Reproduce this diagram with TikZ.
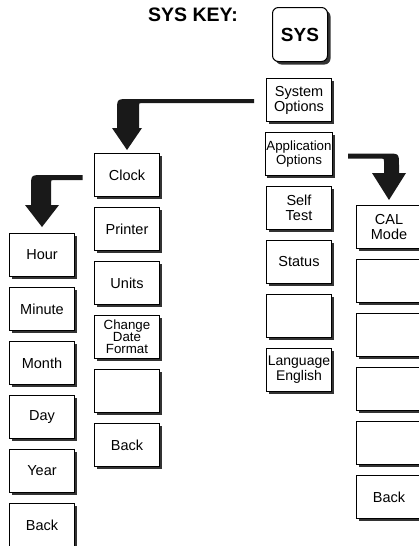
\documentclass[tikz,border=0pt]{standalone}
\usepackage{fontspec}
\setmainfont{Liberation Sans}
\usepackage{tikz}
\usetikzlibrary{calc}
\usetikzlibrary{shadows}

\tikzset{
	softkey/.style={draw,line width=1pt,fill=white,minimum width=65pt,minimum height=43pt,inner sep=1pt,align=center,font=\fontsize{14.5}{15}\selectfont,drop shadow={shadow xshift=2pt,shadow yshift=-2pt,fill=black!80,opacity=1}},
	smallkey/.style={softkey,font=\fontsize{13.3}{12}\selectfont},
	hardkey/.style={draw,line width=1pt,fill=white,rounded corners=6pt,minimum width=55pt,minimum height=54pt,font=\fontsize{19}{20}\selectfont\bfseries,drop shadow={shadow xshift=3pt,shadow yshift=-3pt,fill=black!80,opacity=1}},
	bigarrow/.style={fill=black!90}
}

\begin{document}
\begin{tikzpicture}[x=1pt,y=-1pt]
	\useasboundingbox (0,0) rectangle (419,546);
	\node[anchor=west,inner sep=0pt,font=\fontsize{19.5}{20}\selectfont\bfseries] (keylabel) at (148,15) {SYS KEY:};
	\node[hardkey] (syskey) at (300,34.5) {SYS};
	\node[softkey] (sysopt) at (299,100) {System\\Options};
	\node[softkey,font=\fontsize{13.3}{14}\selectfont] (appopt) at (299,154) {Application\\Options};
	\node[softkey] (selftest) at (299,208) {Self\\Test};
	\node[softkey] (status) at (299,262) {Status};
	\node[softkey] (sysblank) at (299,316) {};
	\node[softkey,font=\fontsize{14}{15}\selectfont] (language) at (299,370) {Language\\English};
	\node[softkey] (clock) at (127,175) {Clock};
	\node[softkey] (printer) at (127,229) {Printer};
	\node[softkey] (units) at (127,283) {Units};
	\node[smallkey] (datefmt) at (127,337) {Change\\Date\\Format};
	\node[softkey] (clkblank) at (127,391) {};
	\node[softkey] (clkback) at (127,445) {Back};
	\node[softkey] (hour) at (42,255) {Hour};
	\node[softkey] (minute) at (42,309) {Minute};
	\node[softkey] (month) at (42,363) {Month};
	\node[softkey] (day) at (42,417) {Day};
	\node[softkey] (year) at (42,471) {Year};
	\node[softkey] (timeback) at (42,525) {Back};
	\node[softkey] (calmode) at (389,227) {CAL\\Mode};
	\node[softkey] (calblanka) at (389,281) {};
	\node[softkey] (calblankb) at (389,335) {};
	\node[softkey] (calblankc) at (389,389) {};
	\node[softkey] (calblankd) at (389,443) {};
	\node[softkey] (calback) at (389,497) {Back};
	\coordinate (tailA) at ($(sysopt.west)+(-12,1)$);
	\coordinate (tipA) at ($(clock.north)+(0,-3)$);
	\coordinate (tailB) at ($(clock.west)+(-11.5,2.5)$);
	\coordinate (tipB) at ($(hour.north)+(0,-6)$);
	\coordinate (tailC) at ($(appopt.east)+(15,2)$);
	\coordinate (tipC) at ($(calmode.north)+(0,-5)$);
	\fill[bigarrow] let \p1=(tailA), \p2=(tipA) in
		(\x1,\y1+2pt) -- (\x2+2pt,\y1+2pt) .. controls (\x2-10pt,\y1+2pt) .. (\x2-10pt,\y1-10pt)
		-- (\x2-10pt,\y2+22pt) -- (\x2-15pt,\y2+22pt) -- (\x2,\y2) -- (\x2+15pt,\y2+22pt) -- (\x2+12pt,\y2+22pt)
		-- (\x2+12pt,\y1-5pt) .. controls (\x2+12pt,\y1-2pt) .. (\x2+15pt,\y1-2pt) -- (\x1,\y1-2pt) -- cycle;
	\fill[bigarrow] let \p1=(tailB), \p2=(tipB) in
		(\x1,\y1+2.5pt) -- (\x2+1pt,\y1+2.5pt) .. controls (\x2-11pt,\y1+2.5pt) .. (\x2-11pt,\y1-9.5pt)
		-- (\x2-11pt,\y2+22pt) -- (\x2-17pt,\y2+22pt) -- (\x2,\y2) -- (\x2+17pt,\y2+22pt) -- (\x2+9pt,\y2+22pt)
		-- (\x2+9pt,\y1-5.5pt) .. controls (\x2+9pt,\y1-2.5pt) .. (\x2+12pt,\y1-2.5pt) -- (\x1,\y1-2.5pt) -- cycle;
	\fill[bigarrow] let \p1=(tailC), \p2=(tipC) in
		(\x1,\y1+2.5pt) -- (\x2-2pt,\y1+2.5pt) .. controls (\x2+10pt,\y1+2.5pt) .. (\x2+10pt,\y1-9.5pt)
		-- (\x2+10pt,\y2+27pt) -- (\x2+17pt,\y2+27pt) -- (\x2,\y2) -- (\x2-17pt,\y2+27pt) -- (\x2-5pt,\y2+27pt)
		-- (\x2-5pt,\y1-5.5pt) .. controls (\x2-5pt,\y1-2.5pt) .. (\x2-8pt,\y1-2.5pt) -- (\x1,\y1-2.5pt) -- cycle;
\end{tikzpicture}
\end{document}
